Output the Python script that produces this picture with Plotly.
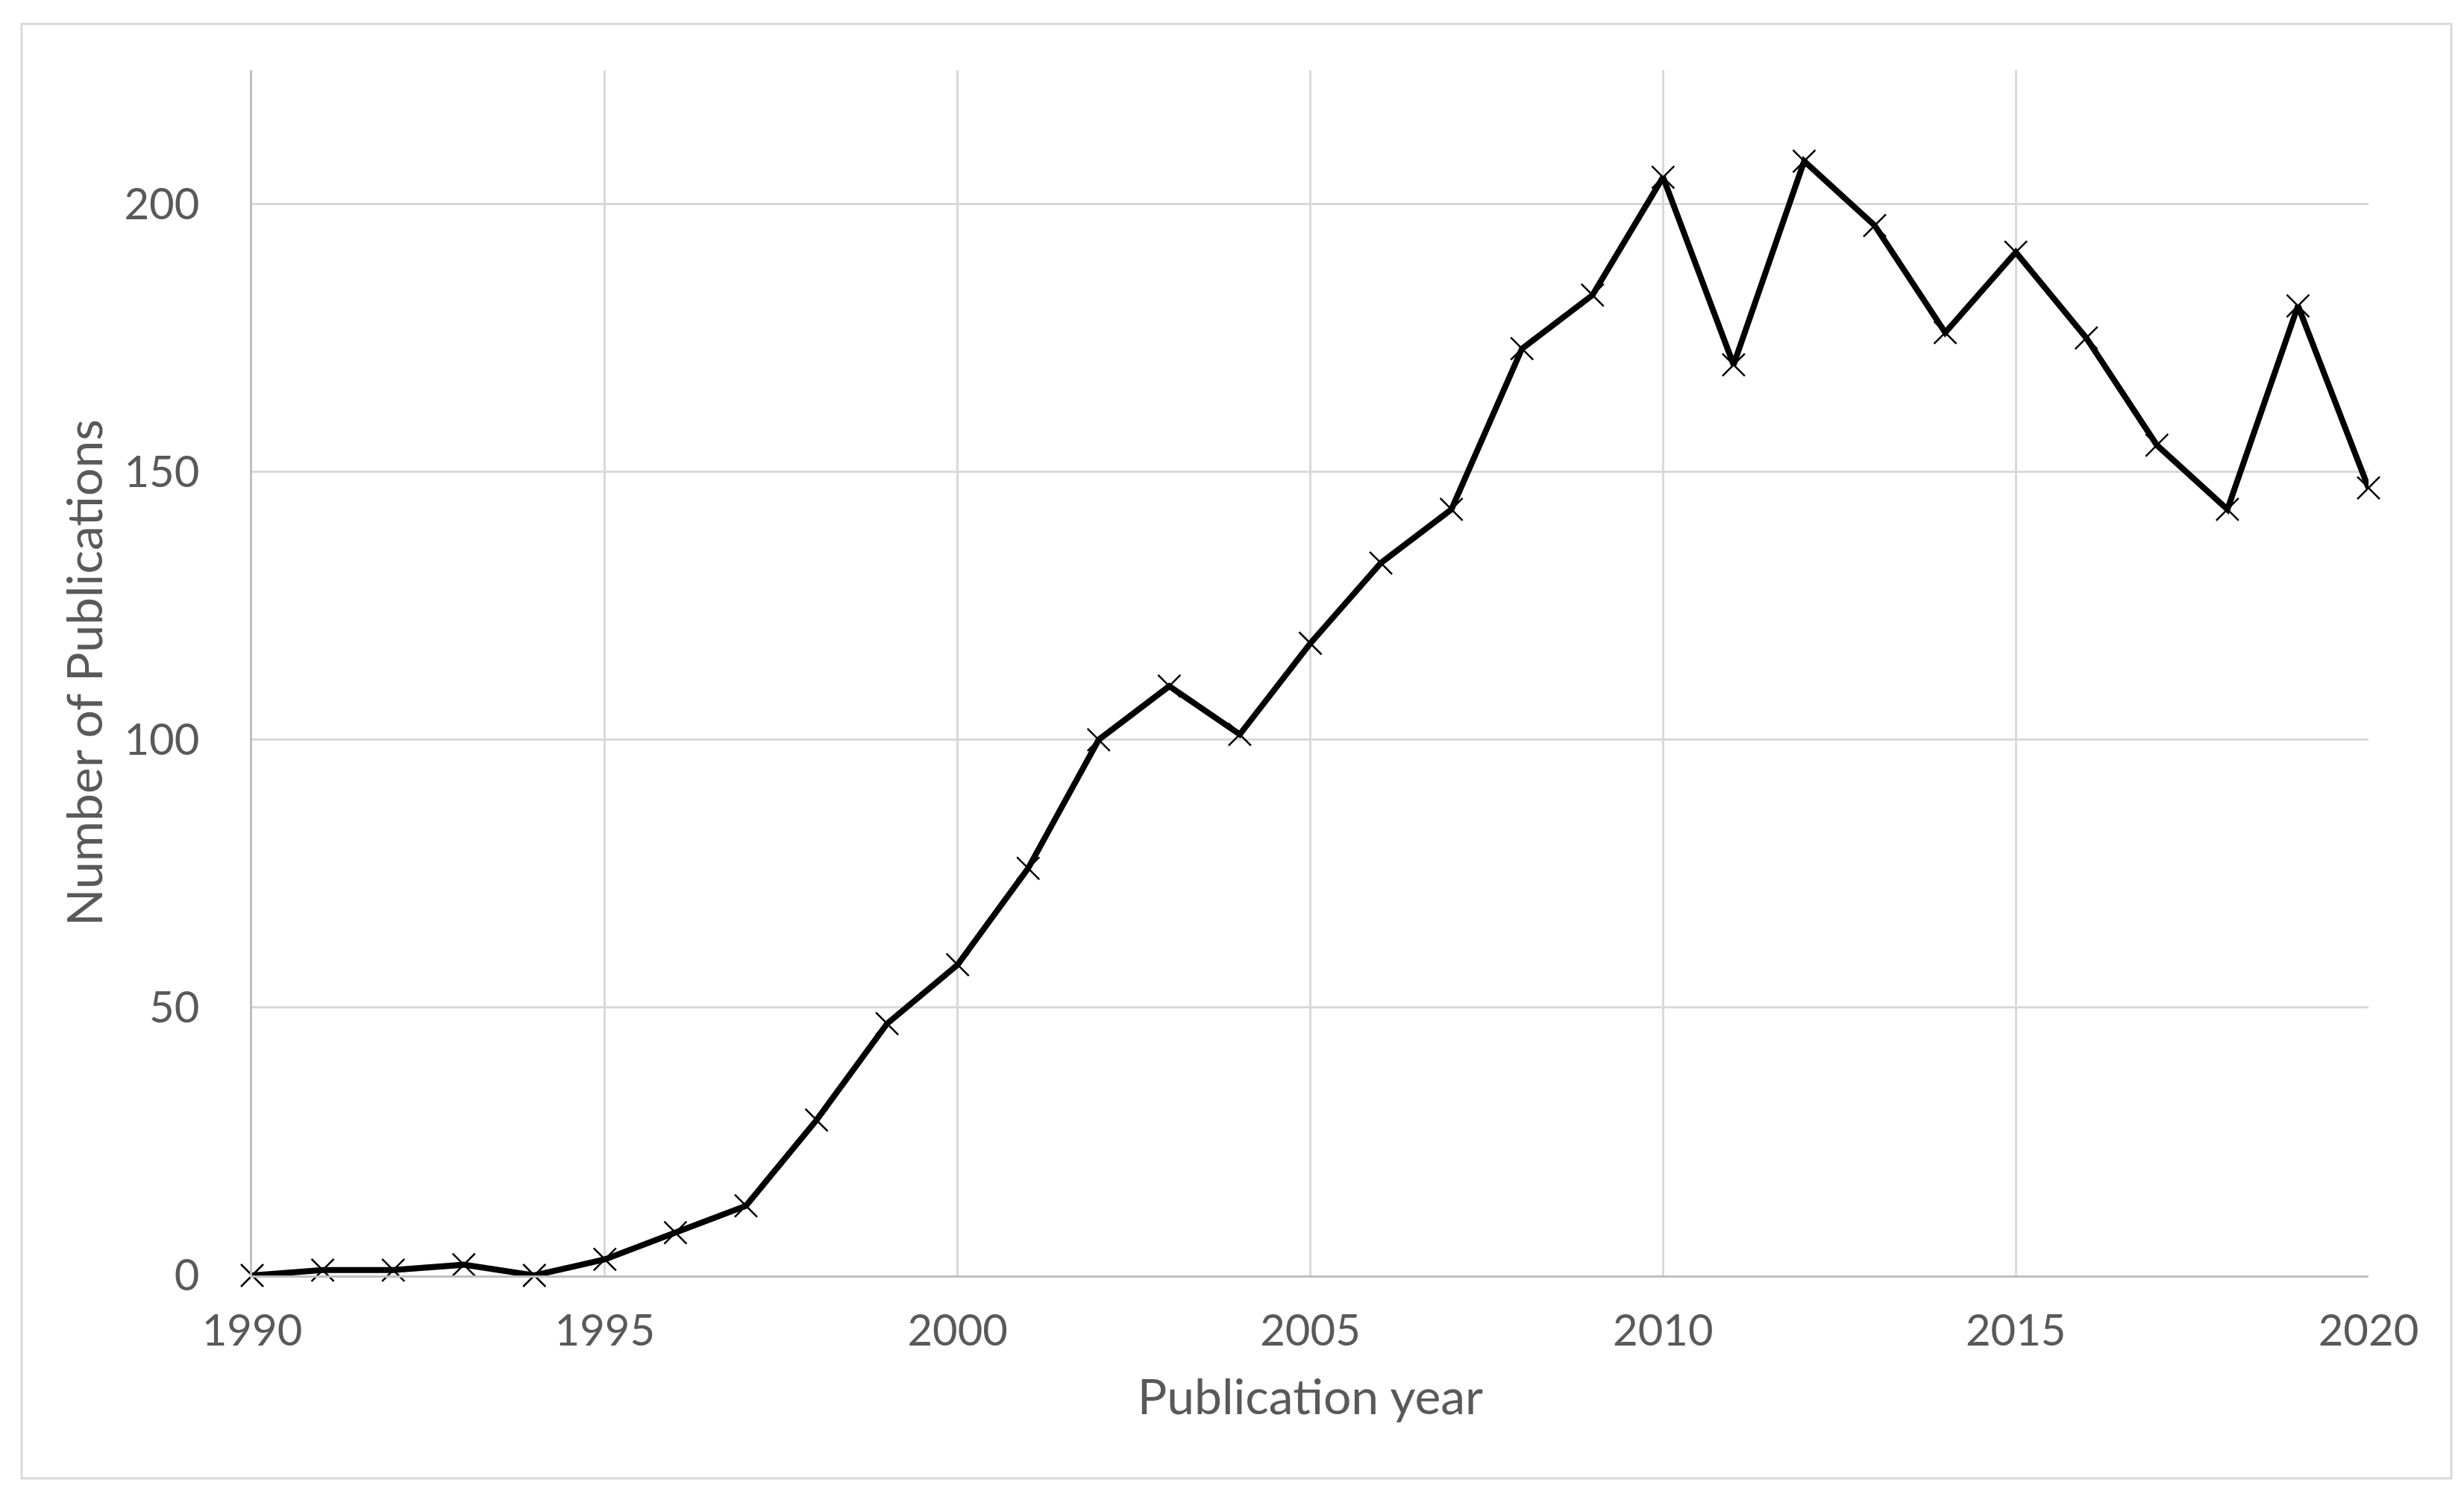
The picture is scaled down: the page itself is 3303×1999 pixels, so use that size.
import plotly.graph_objects as go

years = list(range(1990, 2021))
publications = [0, 1, 1, 2, 0, 3, 8, 13, 29, 47, 58, 76, 100, 110, 101, 118,
                133, 143, 173, 183, 205, 170, 208, 196, 176, 191, 175, 155, 143, 181, 147]
x_ticks = [1990, 1995, 2000, 2005, 2010, 2015, 2020]
y_ticks = [0, 50, 100, 150, 200]

W, H = 3303, 1999
L, R, T, B = 330, 3303 - 3167, 86, 1999 - 1702
pw, ph = W - L - R, H - T - B

FONT = "Lato, 'Liberation Sans', sans-serif"
TXT = "#595959"

fig = go.Figure()
fig.add_trace(go.Scatter(
    x=years, y=publications, mode="lines+markers",
    line=dict(color="black", width=8),
    marker=dict(symbol="x-thin", size=30, color="black",
                line=dict(color="black", width=2.5)),
    cliponaxis=False, showlegend=False,
))

# outer chart frame (decorative)
fx0, fx1 = (21 - L) / pw, (3278 - L) / pw
fy0, fy1 = 1 - (1974 - T) / ph, 1 - (24 - T) / ph
fig.add_shape(type="rect", xref="paper", yref="paper", x0=fx0, x1=fx1, y0=fy0, y1=fy1,
              line=dict(color="#d9d9d9", width=3), fillcolor="rgba(0,0,0,0)", layer="below")

fig.update_layout(
    width=W, height=H,
    margin=dict(l=L, r=R, t=T, b=B),
    paper_bgcolor="white", plot_bgcolor="white",
    font=dict(family=FONT, color=TXT, size=58),
    xaxis=dict(
        range=[1990, 2020], tickvals=x_ticks, ticktext=[str(v) for v in x_ticks],
        showgrid=True, gridcolor="#d9d9d9", gridwidth=3,
        showline=True, linecolor="#bfbfbf", linewidth=3,
        zeroline=False, ticks="", ticklabelstandoff=21,
        tickfont=dict(size=58, color=TXT, family=FONT),
        title=dict(text="Publication year", font=dict(size=66, color=TXT, family=FONT), standoff=36),
    ),
    yaxis=dict(
        range=[0, 225], tickvals=y_ticks, ticktext=[str(v) for v in y_ticks],
        showgrid=True, gridcolor="#d9d9d9", gridwidth=3,
        showline=True, linecolor="#bfbfbf", linewidth=3,
        zeroline=False, ticks="", ticklabelstandoff=56,
        tickfont=dict(size=58, color=TXT, family=FONT),
        title=dict(text="Number of Publications", font=dict(size=66, color=TXT, family=FONT), standoff=8),
    ),
)

fig.write_html("out.html")
